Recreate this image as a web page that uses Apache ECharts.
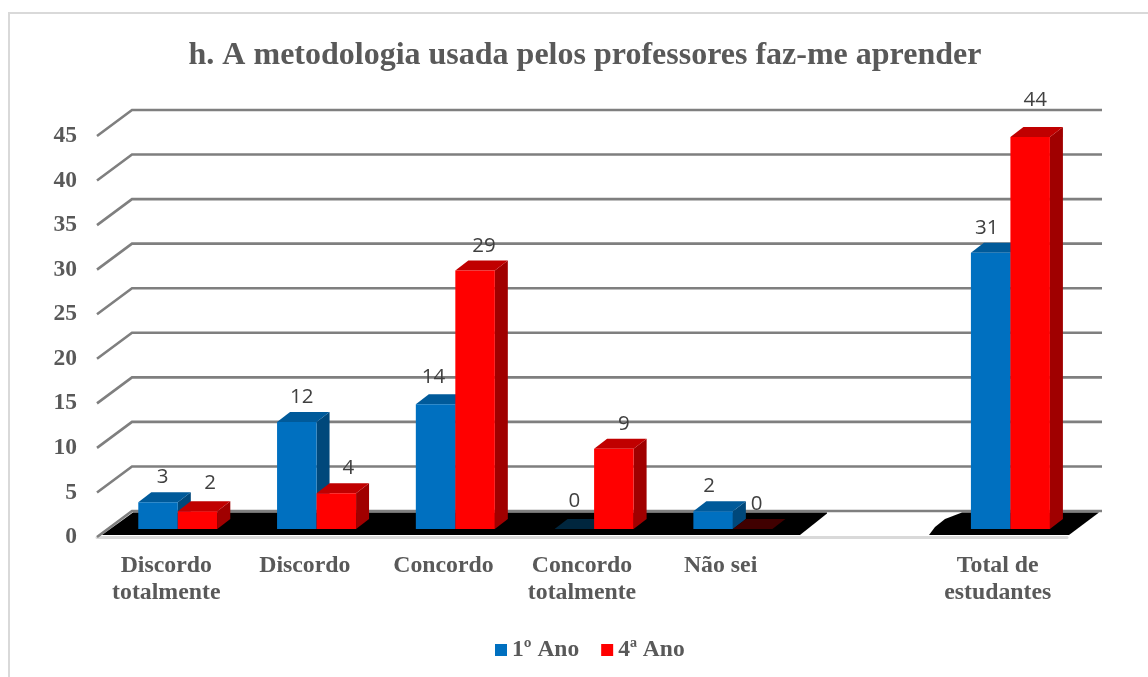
<!DOCTYPE html>
<html><head><meta charset="utf-8">
<style>html,body{margin:0;padding:0;background:#fff}#c{width:1148px;height:677px}</style>
<script src="https://cdn.jsdelivr.net/npm/echarts@6/dist/echarts.min.js"></script>
</head><body><div id="c"></div>
<script>
const titleText = 'h. A metodologia usada pelos professores faz-me aprender';
const categories = ['Discordo\ntotalmente','Discordo','Concordo','Concordo\ntotalmente','Não sei','','Total de\nestudantes'];
const ano1 = [3,12,14,0,2,null,31];
const ano4 = [2,4,29,9,0,null,44];
const yTicks = [0,5,10,15,20,25,30,35,40,45];

const SERIF = '"Liberation Serif","Times New Roman",serif';
const GREY = '#595959';
const wallDx = 35, wallDy = -26;
const barW = 39.5, barDx = 13, barDy = -10, baseDy = -8, clusterDx = 11.5, stepExtra = 0.2;
const nudgeBlue = [4.5,5,-2,0,-4,0,-4], nudgeRed = [12.5,12,9,10,4,0,5];
const liftBlue = [25,25,27,28,25,0,25], liftRed = [28,25,24,25,25,0,37];

function gridItem(params, api){
  const cs = params.coordSys, t = api.value(1);
  const y = api.coord([0,t])[1], x0 = cs.x, x1 = cs.x + cs.width;
  return {type:'polyline', silent:true,
    shape:{points:[[x0,y],[x0+wallDx,y+wallDy],[x1+wallDx,y+wallDy]]},
    style:{stroke:'#7f7f7f',lineWidth:2.6,fill:null}};
}
function floorItem(params, api){
  const cs = params.coordSys, y = api.coord([0,0])[1], L = cs.x, R = cs.x+cs.width;
  const f = y-2, b = y+wallDy+1.5;
  const left = [[L+5,f],[L+36,b],[L+730,b],[L+730,b+1],[L+720,b+9],[L+703,f]];
  const right = [[R-138,f],[R-132,f-8],[R-122,f-16],[R-105,b],[R+32,b],[R+2,f]];
  return {type:'group', silent:true, children:[
    {type:'polygon',shape:{points:left},style:{fill:'#000'}},
    {type:'polygon',shape:{points:right},style:{fill:'#000'}}
  ]};
}
function barRenderer(side, c, nudge, lift){
  return function(params, api){
    const idx = api.value(0), v = api.value(1);
    const base = api.coord([idx,0]), top = api.coord([idx,v]);
    const cx = base[0] + clusterDx + idx*stepExtra;
    const x0 = side<0 ? cx-barW : cx, x1 = x0+barW;
    const yb = base[1]+baseDy, yt = top[1]+baseDy;
    const kids = [];
    const topFace = [[x0,yt],[x0+barDx,yt+barDy],[x1+barDx,yt+barDy],[x1,yt]];
    if (v === 0) {
      kids.push({type:'polygon',shape:{points:topFace},style:{fill:c.zero}});
    } else {
      kids.push({type:'polygon',shape:{points:[[x1,yb],[x1+barDx,yb+barDy],[x1+barDx,yt+barDy],[x1,yt]]},style:{fill:c.side}});
      kids.push({type:'polygon',shape:{points:topFace},style:{fill:c.top}});
      kids.push({type:'rect',shape:{x:x0,y:yt,width:barW,height:yb-yt},style:{fill:c.front}});
    }
    kids.push({type:'text',style:{text:String(v),x:x0+barW/2+nudge[idx],y:yt-lift[idx],
      align:'center',verticalAlign:'middle',font:'20.5px "Open Sans",sans-serif',fill:'#404040'}});
    return {type:'group',silent:true,children:kids};
  };
}
function rows(arr){ return arr.map((v,i)=>[i,v]).filter(r=>r[1]!==null); }

const chart = echarts.init(document.getElementById('c'),null,{renderer:'canvas'});
chart.setOption({
  animation:false, backgroundColor:'#fff',
  title:{text:titleText,left:580,top:35,textAlign:'center',
    textStyle:{fontFamily:SERIF,fontWeight:'bold',fontSize:32,color:GREY}},
  legend:{left:490,top:633,itemWidth:12,itemHeight:12,itemGap:22,icon:'rect',
    data:['1º Ano','4ª Ano'],selectedMode:false,
    textStyle:{fontFamily:SERIF,fontWeight:'bold',fontSize:23.5,color:GREY,padding:[0,0,0,0]}},
  grid:{left:97,right:81,top:136,bottom:140},
  xAxis:{type:'category',data:categories,
    axisLine:{show:true,lineStyle:{color:'#d9d9d9',width:3}},axisTick:{show:false},splitLine:{show:false},
    axisLabel:{interval:0,margin:15,fontFamily:SERIF,fontWeight:'bold',fontSize:23.8,lineHeight:27,color:GREY}},
  yAxis:{type:'value',min:0,max:45,interval:5,
    axisLine:{show:false},axisTick:{show:false},splitLine:{show:false},
    axisLabel:{margin:20,fontFamily:SERIF,fontWeight:'bold',fontSize:23.5,color:GREY}},
  graphic:[{type:'rect',silent:true,z:-1,shape:{x:9,y:13,width:1300,height:1000},style:{fill:null,stroke:'#d9d9d9',lineWidth:2}}],
  series:[
    {type:'custom',name:'grid',z:1,clip:false,silent:true,renderItem:gridItem,data:yTicks.map(t=>[0,t]),encode:{x:0,y:1},legendHoverLink:false},
    {type:'custom',name:'floor',z:2,clip:false,silent:true,renderItem:floorItem,data:[[0,0]],encode:{x:0,y:1}},
    {type:'custom',name:'1º Ano',z:3,clip:false,itemStyle:{color:'#0070C0'},encode:{x:0,y:1},data:rows(ano1),
      renderItem:barRenderer(-1,{front:'#0070C0',top:'#005A9A',side:'#00487B',zero:'#00263E'},nudgeBlue,liftBlue)},
    {type:'custom',name:'4ª Ano',z:4,clip:false,itemStyle:{color:'#FF0000'},encode:{x:0,y:1},data:rows(ano4),
      renderItem:barRenderer(1,{front:'#FF0000',top:'#C00000',side:'#A00000',zero:'#400000'},nudgeRed,liftRed)}
  ]
});
</script></body></html>
